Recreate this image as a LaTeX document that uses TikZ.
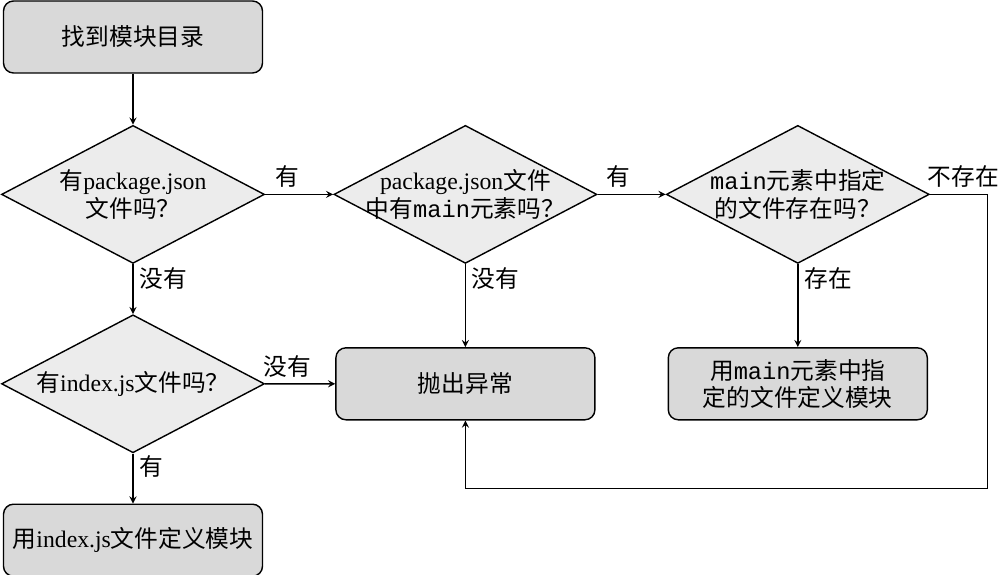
\documentclass[tikz,border=0pt]{standalone}
\usepackage{fontspec}
\setmainfont{Noto Sans CJK SC}
\newfontfamily\lat{Liberation Serif}
\setmonofont{Liberation Mono}
\usetikzlibrary{shapes.geometric, arrows, positioning}

\begin{document}
\begin{tikzpicture}[node distance=1cm, auto, font=\fontsize{13.5}{15.5}\selectfont,
    block/.style={rectangle, draw, fill=gray!30, minimum width=5.18cm, minimum height=1.44cm, align=center, rounded corners=0.2cm, line width=0.8pt},
    decision/.style={diamond, draw, fill=gray!15, minimum width=5.26cm, minimum height=2.76cm, inner sep=0pt, line width=0.8pt},
    arrow/.style={line width=0.8pt,->,>=stealth}]
    \useasboundingbox (0,0) rectangle (20,11.5);

    \node [block] (finddir) at (2.66,10.76) {找到模块目录};
    \node [decision, below=1.02cm of finddir, label={[align=center]center:{有{\lat package.json}\\文件吗？}}] (haspkg) {};
    \node [decision, right=1.36cm of haspkg, label={[align=center]center:{{\lat package.json}文件\\中有\texttt{main}元素吗？}}] (hasmain) {};
    \node [decision, right=1.36cm of hasmain, label={[align=center]center:{\texttt{main}元素中指定\\的文件存在吗？}}] (mainexists) {};
    \node [decision, below=1cm of haspkg, label={[align=center]center:{有{\lat index.js}文件吗？}}] (hasindex) {};
    \node [block, below=1cm of hasindex] (useindex) {用{\lat index.js}文件定义模块};
    \node [block, below=1.66cm of hasmain] (throw) {抛出异常};
    \node [block, below=1.66cm of mainexists] (usemain) {用\texttt{main}元素中指\\定的文件定义模块};

    \draw [arrow] (finddir) -- (haspkg);
    \draw [arrow] (haspkg) -- node[above, pos=0.33] {有} (hasmain);
    \draw [arrow] (hasmain) -- node[above, pos=0.31] {有} (mainexists);
    \draw [arrow] (haspkg) -- node[right, pos=0.28] {没有} (hasindex);
    \draw [arrow] (hasindex) -- node[above, pos=0.32] {没有} (throw);
    \draw [arrow] (hasindex) -- node[right, pos=0.26] {有} (useindex);
    \draw [arrow] (hasmain) -- node[right, pos=0.17] {没有} (throw);
    \draw [arrow] (mainexists) -- node[right, pos=0.17] {存在} (usemain);
    \draw [arrow] (mainexists.east) -- node[above, pos=0.58] {不存在} ++(1.15,0) -- ++(0,-5.88) -| (throw.south);
\end{tikzpicture}
\end{document}
